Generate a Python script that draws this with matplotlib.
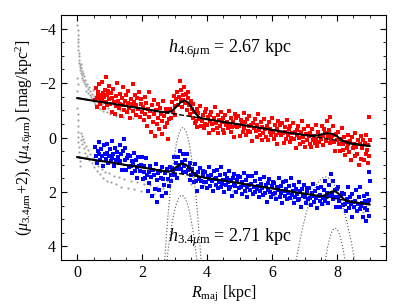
import matplotlib
matplotlib.use("Agg")
import matplotlib.pyplot as plt
import numpy as np
from matplotlib.ticker import MultipleLocator

plt.rcParams['font.family'] = ['Liberation Serif', 'DejaVu Serif']
plt.rcParams['mathtext.fontset'] = 'custom'
plt.rcParams['mathtext.rm'] = 'Liberation Serif'
plt.rcParams['mathtext.it'] = 'Liberation Serif:italic'
plt.rcParams['font.size'] = 11.5

# 4.6 micron profile (red points)
red_pts = [
    (0.56,-1.38),(0.58,-1.81),(0.60,-1.45),(0.61,-1.12),(0.63,-1.69),(0.65,-1.52),(0.67,-1.97),(0.69,-1.24),
    (0.71,-1.58),(0.73,-1.41),(0.75,-2.05),(0.77,-1.33),(0.79,-1.63),(0.81,-1.08),(0.83,-1.49),(0.85,-1.76),
    (0.87,-1.29),(0.89,-2.22),(0.91,-1.55),(0.93,-1.18),(0.95,-1.71),(0.97,-1.40),(0.99,-1.90),
    (1.01,-1.22),(1.04,-1.63),(1.06,-0.95),(1.08,-1.44),(1.11,-1.78),(1.13,-1.30),(1.15,-0.88),(1.18,-1.52),
    (1.20,-1.15),(1.23,-2.01),(1.25,-1.36),(1.27,-1.07),(1.30,-1.61),(1.32,-1.25),(1.35,-0.79),(1.37,-1.47),
    (1.40,-1.19),(1.42,-1.84),(1.45,-1.02),(1.47,-1.33),(1.50,-1.58),(1.52,-0.92),(1.55,-1.27),(1.57,-1.71),
    (1.60,-1.10),(1.62,-0.70),(1.65,-1.40),(1.67,-1.22),(1.70,-1.95),(1.72,-0.98),(1.75,-1.31),(1.77,-1.55),
    (1.80,-0.84),(1.82,-1.18),(1.85,-1.46),(1.87,-1.03),(1.90,-1.69),(1.92,-0.77),(1.95,-1.25),(1.97,-1.40),
    (1.99,-0.93),
    (2.02,-1.12),(2.05,-0.63),(2.07,-1.49),(2.10,-0.85),(2.12,-1.27),(2.15,-0.41),(2.17,-1.05),(2.20,-1.68),
    (2.22,-0.74),(2.25,-0.96),(2.27,-0.22),(2.30,-1.18),(2.32,-0.58),(2.35,-1.38),(2.37,-0.87),(2.40,-0.05),
    (2.42,-1.02),(2.45,-0.49),(2.47,-1.25),(2.50,-0.70),(2.52,-0.30),(2.55,-1.10),(2.57,-0.88),(2.60,-0.12),
    (2.62,-0.61),(2.65,-1.33),(2.67,-0.79),(2.70,-0.38),(2.72,-1.04),(2.75,-0.55),(2.77,-0.93),(2.80,0.05),
    (2.82,-0.69),
    (2.85,-1.05),(2.88,-0.72),(2.91,-1.31),(2.94,-0.95),(2.97,-1.52),(3.00,-1.15),(3.02,-0.82),(3.05,-1.40),
    (3.08,-1.68),(3.10,-1.21),(3.13,-1.49),(3.15,-2.08),(3.18,-1.33),(3.20,-1.74),(3.22,-1.12),(3.25,-1.58),
    (3.27,-1.39),(3.30,-1.85),(3.32,-1.26),(3.35,-1.61),(3.37,-1.02),(3.40,-1.45),(3.42,-1.69),(3.45,-1.18),
    (3.47,-0.88),(3.50,-1.35),(3.52,-1.05),(3.55,-0.71),(3.57,-1.22),(3.60,-0.93),(3.62,-0.55),
    (3.65,-0.62),(3.68,-1.04),(3.70,-0.38),(3.73,-0.90),(3.76,-0.67),(3.78,-1.16),(3.81,-0.44),(3.84,-0.61),
    (3.86,-0.82),(3.89,-0.36),(3.92,-0.94),(3.94,-0.50),(3.97,-1.06),(4.00,-0.45),(4.02,-0.74),(4.05,-0.15),
    (4.08,-0.81),(4.10,-0.62),(4.13,-0.93),(4.16,-0.50),(4.18,-0.27),(4.21,-0.72),(4.24,-1.14),(4.26,-0.55),
    (4.29,-0.36),(4.32,-0.82),(4.34,-0.16),(4.37,-0.64),(4.40,-0.43),(4.42,-0.93),(4.45,-0.56),(4.48,-0.29),
    (4.50,-0.70),(4.53,-0.18),(4.56,-0.83),(4.58,-0.45),(4.61,-0.56),(4.64,-0.34),(4.66,-0.98),(4.69,-0.48),
    (4.72,-0.22),(4.74,-0.72),(4.77,-0.37),(4.80,-0.57),(4.82,-0.03),(4.85,-0.86),(4.88,-0.42),(4.90,-0.72),
    (4.93,-0.37),(4.96,-0.79),(4.98,-0.43),(5.01,-0.05),(5.04,-0.65),(5.06,-0.48),(5.09,-0.19),(5.12,-0.90),
    (5.14,-0.36),(5.17,-0.56),(5.20,-0.11),(5.22,-0.68),(5.25,-0.25),(5.28,-0.41),(5.30,-0.80),(5.33,-0.19),
    (5.36,-0.47),(5.38,0.11),(5.41,-0.55),(5.44,-0.36),(5.46,-0.67),(5.49,-0.24),(5.52,-0.01),(5.54,-0.46),
    (5.57,-0.88),(5.60,-0.29),(5.62,-0.10),(5.65,-0.56),(5.68,0.10),(5.70,-0.38),(5.73,-0.17),(5.76,-0.67),
    (5.78,-0.30),(5.81,-0.03),(5.84,-0.44),(5.86,0.08),(5.89,-0.57),(5.92,-0.19),(5.94,-0.30),(5.97,-0.08),
    (6.00,-0.72),
    (6.03,-0.21),(6.06,0.04),(6.08,-0.45),(6.11,-0.11),(6.14,-0.31),(6.16,0.23),(6.19,-0.60),(6.22,-0.16),
    (6.24,-0.46),(6.27,-0.11),(6.30,-0.53),(6.32,-0.17),(6.35,0.21),(6.38,-0.39),(6.40,-0.22),(6.43,0.07),
    (6.46,-0.64),(6.48,-0.10),(6.51,-0.30),(6.54,0.16),(6.56,-0.42),(6.59,0.02),(6.62,-0.15),(6.64,-0.53),
    (6.67,0.07),(6.70,-0.21),(6.72,0.37),(6.75,-0.29),(6.78,-0.10),(6.80,-0.41),(6.83,0.02),(6.86,0.25),
    (6.88,-0.20),(6.91,-0.62),(6.94,-0.03),(6.96,0.16),(6.99,-0.30),(7.02,0.36),(7.04,-0.12),(7.07,0.09),
    (7.10,-0.41),(7.12,-0.04),(7.15,0.23),(7.18,-0.18),(7.20,0.34),(7.23,-0.31),(7.26,0.08),(7.28,-0.04),
    (7.31,0.19),(7.34,-0.46),(7.36,0.05),(7.39,0.30),(7.42,-0.19),(7.44,0.15),(7.47,-0.05),
    (7.50,0.04),(7.53,-0.41),(7.55,-0.07),(7.58,0.29),(7.61,-0.33),(7.63,-0.18),(7.66,0.11),(7.69,-0.61),
    (7.71,-0.06),(7.74,-0.26),(7.77,0.20),(7.79,-0.77),(7.82,0.08),(7.85,-0.07),(7.87,-0.44),(7.90,0.18),
    (7.93,-0.09),(7.95,0.51),(7.98,-0.14),(8.01,0.08),(8.03,-0.22),(8.06,0.24),(8.09,0.48),(8.11,0.05),
    (8.14,-0.36),(8.17,0.25),(8.19,0.44),
    (8.22,-0.01),(8.25,0.65),(8.27,0.18),(8.30,0.38),(8.32,-0.11),(8.35,0.25),(8.38,0.53),(8.40,0.11),
    (8.43,0.84),(8.46,-0.02),(8.48,0.37),(8.51,0.25),(8.54,0.68),(8.56,-0.17),(8.59,0.34),(8.62,0.59),
    (8.64,0.09),(8.67,1.01),(8.70,0.23),(8.72,0.78),(8.75,-0.06),(8.78,0.38),(8.80,0.08),(8.83,0.83),
    (8.86,0.19),(8.88,0.60),(8.90,-0.09),(8.92,0.47),(8.94,0.94),(8.96,0.28),(8.98,0.68),(9.00,0.08),
    (8.99,-0.75),
]

# 3.4 micron profile + 2 mag (blue points)
blue_pts = [
    (0.56,0.33),(0.58,0.69),(0.61,0.92),(0.63,0.48),(0.66,0.59),(0.68,0.15),(0.71,0.83),(0.74,0.42),
    (0.76,0.67),(0.79,1.04),(0.82,0.28),(0.84,0.60),(0.87,0.78),(0.90,0.55),(0.92,0.25),(0.95,0.92),
    (0.98,0.68),(1.00,0.43),(1.03,0.86),(1.06,0.13),(1.08,0.74),(1.11,0.61),(1.14,1.04),(1.16,0.38),
    (1.19,0.81),(1.22,0.54),(1.24,0.70),(1.27,0.95),(1.30,0.28),(1.32,0.88),(1.35,0.60),(1.38,1.21),
    (1.40,0.51),(1.43,0.07),(1.46,0.37),(1.48,0.83),
    (1.51,1.20),(1.53,0.77),(1.56,0.64),(1.59,1.07),(1.61,0.68),(1.64,1.06),(1.67,1.30),(1.69,0.86),
    (1.72,0.98),(1.75,0.56),(1.77,1.24),(1.80,0.84),(1.83,1.09),(1.85,1.48),(1.88,0.73),(1.91,1.05),
    (1.93,1.24),(1.96,1.02),(1.99,0.73),
    (2.01,1.51),(2.04,1.28),(2.06,1.03),(2.09,1.47),(2.12,0.75),(2.14,1.36),(2.17,1.98),(2.20,1.25),
    (2.22,1.68),(2.25,1.03),(2.28,1.46),(2.30,2.16),(2.33,1.21),(2.36,1.37),(2.38,1.89),(2.41,0.97),
    (2.44,1.57),(2.46,2.35),(2.49,1.31),(2.52,1.92),(2.54,1.23),(2.57,1.48),(2.60,2.15),(2.62,1.08),
    (2.65,1.53),(2.68,1.74),(2.70,1.30),(2.73,2.02),(2.76,1.14),(2.78,1.54),(2.81,1.79),(2.84,1.10),
    (2.87,1.39),(2.90,1.59),(2.92,1.11),(2.95,1.19),(2.98,0.72),(3.00,1.36),(3.03,0.93),(3.06,1.15),
    (3.08,1.50),(3.11,0.72),(3.14,1.01),(3.16,0.48),(3.19,1.16),(3.22,0.91),(3.24,0.61),(3.27,1.28),
    (3.30,1.05),(3.32,0.81),(3.35,1.26),(3.38,0.60),(3.40,1.19),(3.43,1.09),(3.46,1.55),(3.48,0.93),
    (3.51,1.39),(3.54,1.16),(3.56,1.34),(3.59,1.62),(3.62,0.98),(3.64,1.59),
    (3.67,1.35),(3.70,1.96),(3.72,1.26),(3.75,1.52),(3.78,1.13),(3.80,1.58),(3.83,1.80),(3.86,1.36),
    (3.88,1.23),(3.91,1.65),(3.94,1.26),(3.96,1.62),(3.99,1.86),(4.02,1.41),(4.04,1.53),(4.07,1.09),
    (4.10,1.77),(4.12,1.36),(4.15,1.61),(4.18,1.98),(4.20,1.23),(4.23,1.54),(4.26,1.73),(4.28,1.49),
    (4.31,1.20),(4.34,1.86),(4.36,1.63),(4.39,1.37),(4.42,1.81),(4.44,1.08),(4.47,1.69),(4.50,1.56),
    (4.52,1.99),(4.55,1.33),(4.58,1.76),(4.60,1.49),(4.63,1.65),(4.66,1.90),(4.68,1.24),(4.71,1.83),
    (4.74,1.56),(4.76,2.16),(4.79,1.47),(4.82,1.73),(4.84,1.33),(4.87,1.79),(4.90,2.00),(4.92,1.56),
    (4.95,1.43),(4.98,1.86),(5.00,1.46),(5.03,1.83),(5.06,2.06),(5.08,1.62),(5.11,1.73),(5.14,1.30),
    (5.16,1.97),(5.19,1.57),(5.22,1.81),(5.24,2.19),(5.27,1.43),(5.30,1.75),(5.32,1.93),(5.35,1.70),
    (5.38,1.40),(5.40,2.07),(5.43,1.83),(5.46,1.58),(5.48,2.01),(5.51,1.29),(5.54,1.89),(5.56,1.77),
    (5.59,2.19),(5.62,1.54),(5.64,1.96),(5.67,1.70),(5.70,1.85),(5.72,2.11),(5.75,1.44),(5.78,2.04),
    (5.80,1.76),(5.83,2.37),(5.86,1.68),(5.88,1.93),(5.91,1.54),(5.94,1.99),(5.96,2.20),(5.99,1.77),
    (6.02,1.64),(6.04,2.06),(6.07,1.67),(6.10,2.03),(6.12,2.27),(6.15,1.82),(6.18,1.94),(6.20,1.50),
    (6.23,2.18),(6.26,1.77),(6.28,2.02),(6.31,2.39),(6.34,1.64),(6.36,1.95),(6.39,2.14),(6.42,1.90),
    (6.44,1.61),(6.47,2.27),(6.50,2.04),(6.52,1.78),(6.55,2.22),(6.58,1.49),(6.60,2.10),(6.63,1.97),
    (6.66,2.40),(6.68,1.74),(6.71,2.17),(6.74,1.90),(6.76,2.06),(6.79,2.31),(6.82,1.65),(6.84,2.24),
    (6.87,1.97),(6.90,2.57),(6.92,1.88),(6.95,2.13),(6.98,1.74),(7.00,2.19),(7.03,2.41),(7.06,1.97),
    (7.08,1.84),(7.11,2.26),(7.14,1.87),(7.16,2.23),(7.19,2.47),(7.22,2.02),(7.24,2.14),(7.27,1.70),
    (7.30,2.38),(7.32,1.97),(7.35,2.22),(7.38,2.59),(7.40,1.84),(7.43,2.15),(7.46,2.34),(7.48,2.10),
    (7.51,1.81),(7.54,2.46),(7.56,2.21),(7.59,1.93),(7.62,2.34),(7.64,1.59),(7.67,2.17),(7.70,2.02),
    (7.72,2.42),(7.75,1.75),(7.78,2.16),(7.80,1.34),(7.83,2.02),(7.86,2.27),(7.88,1.60),(7.91,2.20),
    (7.94,1.94),(7.96,2.57),(7.99,1.90),(8.02,2.19),(8.04,1.83),(8.07,2.32),(8.10,2.56),(8.12,2.15),
    (8.15,2.03),(8.18,2.47),
    (8.21,2.09),(8.23,2.45),(8.26,2.69),(8.29,2.24),(8.31,2.36),(8.34,1.82),(8.37,2.60),(8.39,2.19),
    (8.42,2.44),(8.45,2.91),(8.47,2.06),(8.50,2.37),(8.53,2.56),(8.55,2.32),(8.58,1.93),(8.61,2.69),
    (8.63,2.46),(8.66,2.20),(8.69,2.64),(8.71,1.81),(8.74,2.52),(8.77,2.39),(8.79,2.92),(8.82,2.16),
    (8.85,2.59),(8.87,2.32),(8.89,3.08),(8.91,2.06),(8.93,2.65),(8.95,2.38),(8.97,2.88),(8.99,2.28),
    (9.00,1.60),(8.98,1.25),
]

# full profiles, including the excluded centre (grey points)
grey_pts = [
    (0.00,-4.15),(0.01,-3.95),(0.01,-3.78),(0.02,-3.62),(0.02,-3.50),(0.03,-3.35),(0.03,-3.22),(0.04,-3.10),
    (0.05,-2.98),(0.05,-2.86),(0.06,-2.75),(0.07,-2.66),(0.08,-2.58),(0.09,-2.49),(0.10,-2.70),(0.11,-2.38),
    (0.12,-2.55),(0.13,-2.29),(0.14,-2.45),(0.15,-2.20),(0.17,-2.36),(0.18,-2.12),(0.20,-2.05),(0.21,-2.25),
    (0.23,-1.96),(0.25,-2.10),(0.27,-1.88),(0.28,-1.72),(0.30,-1.95),(0.32,-1.80),(0.34,-1.62),(0.36,-1.85),
    (0.38,-1.55),(0.40,-1.70),(0.42,-1.48),(0.44,-1.60),(0.46,-1.40),(0.48,-1.75),(0.50,-1.32),(0.52,-1.52),
    (0.55,-1.25),(0.58,-1.45),(0.62,-1.18),(0.66,-1.38),(0.70,-1.05),(0.75,-1.22),(0.80,-0.98),(0.85,-1.15),
    (0.90,-0.92),(0.95,-1.10),(1.00,-0.85),(1.10,-0.95),(1.20,-0.80),(1.30,-1.02),(1.40,-0.75),(1.55,-0.90),
    (1.70,-0.70),(1.85,-0.82),
    (0.00,-2.20),(0.01,-1.95),(0.00,-1.72),(0.01,-1.45),(0.00,-1.10),(0.01,-0.88),(0.01,-0.65),(0.02,-0.42),
    (0.02,-0.20),(0.03,-0.02),(0.03,0.18),(0.04,0.35),(0.05,0.52),(0.06,0.70),(0.07,0.88),(0.08,1.05),
    (0.10,-0.15),(0.12,0.10),(0.14,-0.05),(0.16,0.25),(0.18,0.05),(0.20,0.40),(0.22,0.15),(0.25,0.55),
    (0.28,0.30),(0.30,0.68),(0.33,0.45),(0.36,0.82),(0.40,0.60),(0.44,0.95),(0.48,0.75),(0.52,1.08),
    (0.56,0.90),(0.60,1.22),(0.65,1.05),(0.70,1.35),(0.75,1.15),(0.80,1.48),(0.86,1.25),(0.92,1.58),
    (0.98,1.32),(1.05,1.65),(1.12,1.40),(1.20,1.72),(1.28,1.45),(1.36,1.80),(1.45,1.52),(1.55,1.85),
    (1.65,1.58),(1.75,1.90),(1.85,1.62),(1.95,1.95),(2.05,1.70),(2.15,2.00),(2.25,1.75),(2.35,2.08),
    (2.45,1.80),(2.55,2.12),(2.65,1.85),(2.75,1.60),
    (3.50,1.70),(3.90,1.75),(4.30,1.85),(4.80,1.95),(5.20,2.00),(5.70,2.10),(6.10,2.15),(6.60,2.25),
    (7.00,2.30),(7.60,2.45),(8.10,2.50),(8.50,2.60),(8.80,2.75),
]

# model fits: total profile (solid), exponential disk (dashed), rings (dotted)
red_fit_r = [0, 0.5, 1, 1.5, 2, 2.5, 2.75, 2.9, 3.0, 3.1, 3.2, 3.3, 3.4, 3.5, 3.6, 3.7, 3.8, 4.0, 4.5,
             5, 5.5, 6, 6.5, 7, 7.2, 7.4, 7.5, 7.6, 7.7, 7.8, 7.9, 8.0, 8.1, 8.2, 8.35, 8.5, 8.75, 9.0]
red_fit_mu = [-1.45, -1.35, -1.26, -1.16, -1.06, -0.96, -0.92, -0.97, -1.07, -1.20, -1.31, -1.36, -1.30,
              -1.15, -0.96, -0.80, -0.72, -0.67, -0.57, -0.48, -0.38, -0.28, -0.18, -0.09, -0.07, -0.08,
              -0.11, -0.14, -0.16, -0.15, -0.11, -0.04, 0.05, 0.13, 0.21, 0.24, 0.28, 0.31]
blue_fit_r = [0, 0.5, 1, 1.5, 2, 2.5, 2.75, 2.85, 2.95, 3.05, 3.15, 3.25, 3.35, 3.45, 3.55, 3.65, 3.75,
              3.85, 4.0, 4.5, 5, 5.5, 6, 6.5, 7, 7.4, 7.55, 7.65, 7.75, 7.85, 7.95, 8.05, 8.15, 8.25,
              8.4, 8.6, 8.8, 9.0]
blue_fit_mu = [0.72, 0.82, 0.91, 1.01, 1.10, 1.20, 1.25, 1.24, 1.18, 1.08, 0.99, 0.96, 1.00, 1.12, 1.27,
               1.38, 1.43, 1.46, 1.49, 1.58, 1.68, 1.78, 1.87, 1.97, 2.06, 2.14, 2.15, 2.10, 2.03, 1.98,
               1.98, 2.07, 2.20, 2.31, 2.36, 2.40, 2.43, 2.46]
red_disk_r, red_disk_mu = [0, 9], [-1.45, 0.30]
blue_disk_r, blue_disk_mu = [0, 9], [0.72, 2.45]

ring1_red_r = [2.69, 2.75, 2.80, 2.85, 2.90, 2.95, 3.00, 3.05, 3.10, 3.15, 3.20, 3.25,
               3.30, 3.35, 3.40, 3.45, 3.50, 3.55, 3.60, 3.65, 3.70, 3.75, 3.81]
ring1_red_mu = [4.50, 3.51, 2.77, 2.11, 1.53, 1.03, 0.60, 0.25, -0.02, -0.22, -0.33, -0.37,
                -0.33, -0.22, -0.02, 0.25, 0.60, 1.03, 1.53, 2.11, 2.77, 3.51, 4.50]
ring1_blue_r = [2.76, 2.82, 2.87, 2.92, 2.97, 3.02, 3.07, 3.12, 3.17, 3.22,
                3.27, 3.32, 3.37, 3.42, 3.47, 3.52, 3.57, 3.62, 3.68]
ring1_blue_mu = [4.50, 3.91, 3.49, 3.13, 2.82, 2.57, 2.37, 2.23, 2.15, 2.12,
                 2.15, 2.23, 2.37, 2.57, 2.82, 3.13, 3.49, 3.91, 4.50]
ring2_red_r = [6.74, 6.84, 6.94, 7.04, 7.14, 7.24, 7.34, 7.44, 7.54, 7.64,
               7.74, 7.84, 7.94, 8.04, 8.14, 8.24, 8.34, 8.44, 8.54]
ring2_red_mu = [4.50, 3.86, 3.30, 2.81, 2.39, 2.05, 1.79, 1.60, 1.49, 1.45,
                1.49, 1.60, 1.79, 2.05, 2.39, 2.81, 3.30, 3.86, 4.50]
ring2_blue_r = [7.64, 7.69, 7.74, 7.79, 7.84, 7.89, 7.94, 7.99, 8.04, 8.09, 8.14, 8.19, 8.24]
ring2_blue_mu = [4.50, 4.14, 3.85, 3.62, 3.46, 3.36, 3.33, 3.36, 3.46, 3.62, 3.85, 4.14, 4.50]

fig = plt.figure(figsize=(4.07, 3.07), dpi=100)
ax = fig.add_axes([0.150, 0.153, 0.798, 0.798])

gr, gm = zip(*grey_pts)
ax.scatter(gr, gm, s=2.5, marker='o', color='#a0a0a0', linewidths=0, zorder=1)
rr, rm = zip(*red_pts)
ax.scatter(rr, rm, s=6.5, marker='s', color='#ff0000', linewidths=0, zorder=2)
br, bm = zip(*blue_pts)
ax.scatter(br, bm, s=6.5, marker='s', color='#0000ff', linewidths=0, zorder=2)

for r, m in [(ring1_red_r, ring1_red_mu), (ring1_blue_r, ring1_blue_mu),
             (ring2_red_r, ring2_red_mu), (ring2_blue_r, ring2_blue_mu)]:
    ax.plot(r, m, color='#555555', linestyle=(0, (1, 1.8)), lw=0.8, zorder=3)
ax.plot(red_disk_r, red_disk_mu, 'k--', lw=1.0, zorder=4)
ax.plot(blue_disk_r, blue_disk_mu, 'k--', lw=1.0, zorder=4)
ax.plot(red_fit_r, red_fit_mu, 'k-', lw=1.5, zorder=5)
ax.plot(blue_fit_r, blue_fit_mu, 'k-', lw=1.5, zorder=5)

ax.text(2.78, -3.27, r'$h_{4.6\mu{\rm m}}$ = 2.67 kpc', fontsize=13, va='center')
ax.text(2.78, 3.67, r'$h_{3.4\mu{\rm m}}$ = 2.71 kpc', fontsize=13, va='center')

ax.set_xlim(-0.5, 9.5)
ax.set_ylim(4.5, -4.5)
ax.xaxis.set_major_locator(MultipleLocator(2))
ax.xaxis.set_minor_locator(MultipleLocator(0.5))
ax.yaxis.set_major_locator(MultipleLocator(2))
ax.yaxis.set_minor_locator(MultipleLocator(0.5))
ax.tick_params(which='both', direction='in', top=True, right=True)
ax.tick_params(which='major', length=4)
ax.tick_params(which='minor', length=2)
ax.set_xlabel(r'$R_{\rm maj}$ [kpc]', labelpad=2)
ax.set_ylabel(r'$(\mu_{3.4\mu{\rm m}}$+2), $(\mu_{4.6\mu{\rm m}})$ [mag/kpc$^2$]', labelpad=4)

fig.savefig('out.png', dpi=100)
